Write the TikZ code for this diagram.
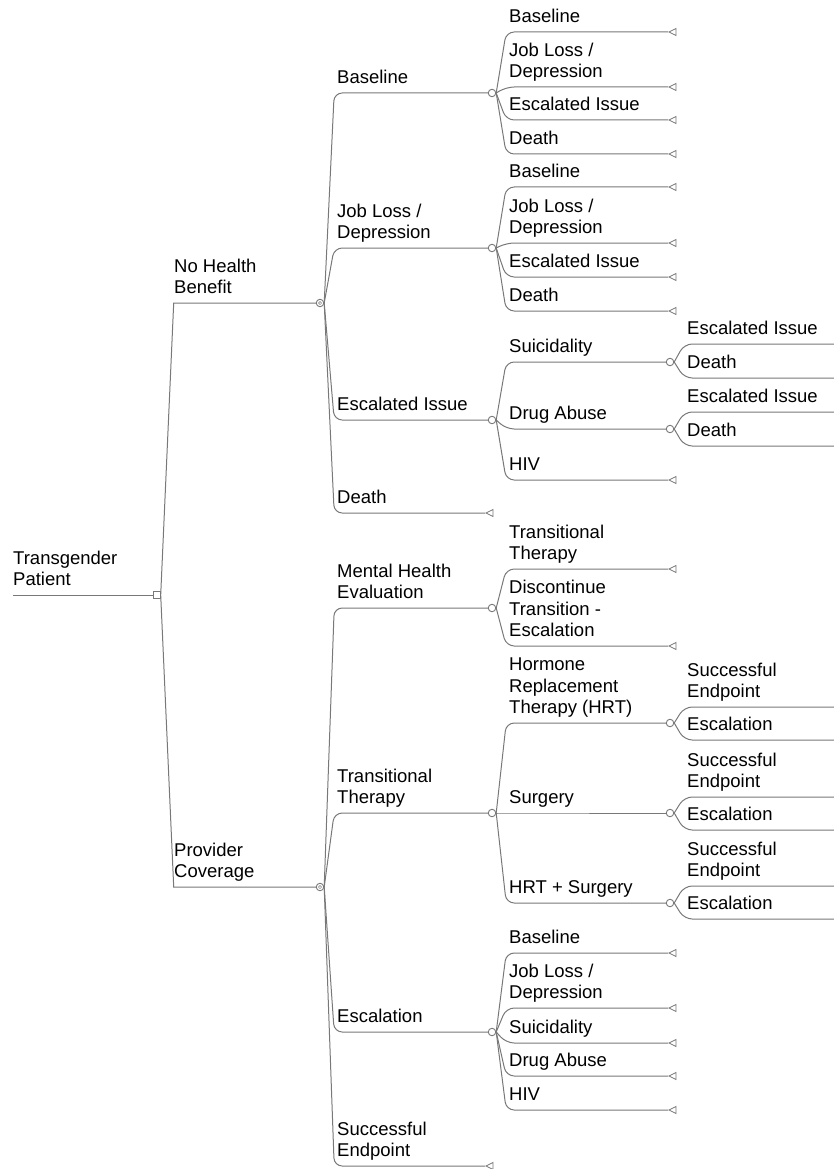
\documentclass[tikz,border=0pt]{standalone}
\usepackage{fontspec}
\setmainfont{Liberation Sans}
\usetikzlibrary{shapes.geometric}

\definecolor{linegray}{RGB}{120,120,120}
\newcommand{\lblfont}{\fontsize{18.5}{21.7}\selectfont}

\begin{document}
\begin{tikzpicture}[x=1pt,y=-1pt,
    branch/.style={draw=linegray, line width=1pt, rounded corners=8pt},
    chance/.style={circle, draw=linegray, fill=white, line width=0.9pt, inner sep=0pt, minimum size=7.5pt},
    chancedot/.style={chance, path picture={\draw[linegray, line width=0.5pt] (path picture bounding box.center) circle (1.6pt);}},
    decision/.style={rectangle, draw=linegray, fill=white, line width=0.9pt, inner sep=0pt, minimum size=6.5pt},
    leaf/.style={isosceles triangle, shape border rotate=180, isosceles triangle stretches, draw=linegray, fill=white, line width=0.8pt, inner sep=0pt, minimum height=7pt, minimum width=7pt, anchor=west},
    lbl/.style={anchor=south west, inner sep=0pt, align=left, font=\lblfont, execute at end node=\strut}]

    \useasboundingbox (0,0) rectangle (834,1169);

    % Decision node
    \coordinate (start) at (13,595);
    \node[decision] (dec) at (157,595) {};
    \node[lbl] (lpatient) at (13,592.5) {Transgender\\Patient};
    \draw[branch] (start) -- (dec);

    % First level
    \node[chancedot] (nhb) at (320,303) {};
    \node[chancedot] (pc) at (320,887) {};
    \node[lbl] (lnhb) at (174,300.5) {No Health\\Benefit};
    \node[lbl] (lpc) at (174,884.5) {Provider\\Coverage};
    \foreach \k in {nhb,pc}
        \draw[branch, sharp corners] (dec.east) -- ([xshift=13pt]dec.east |- \k) -- (\k.west);

    % Second level
    \foreach \n/\y/\t in {bl2/93/Baseline, jl2/248/{Job Loss /\\Depression}, ei2/420/Escalated Issue,
            mh2/608/{Mental Health\\Evaluation}, tt2/813/{Transitional\\Therapy}, es2/1032/Escalation} {
        \node[chance] (\n) at (492,\y) {};
        \node[lbl] (l\n) at (337,\y-2.5) {\t};
    }
    \node[leaf] (dt2) at (485,513) {};
    \node[lbl] (ldt2) at (337,510.5) {Death};
    \node[leaf] (se2) at (485,1166) {};
    \node[lbl] (lse2) at (337,1163.5) {Successful\\Endpoint};
    \foreach \k in {bl2,jl2,ei2,dt2}
        \draw[branch] (nhb.east) -- ([xshift=10pt]nhb.east |- \k.west) -- (\k.west);
    \foreach \k in {mh2,tt2,es2,se2}
        \draw[branch] (pc.east) -- ([xshift=10pt]pc.east |- \k.west) -- (\k.west);

    % Third level, end points
    \foreach \n/\y/\t in {a1/32/Baseline, a2/87/{Job Loss /\\Depression}, a3/120/Escalated Issue, a4/154/Death,
            b1/187/Baseline, b2/243/{Job Loss /\\Depression}, b3/277/Escalated Issue, b4/311/Death,
            c3/480/HIV,
            d1/569/{Transitional\\Therapy}, d2/646/{Discontinue\\Transition -\\Escalation},
            e1/953/Baseline, e2/1008/{Job Loss /\\Depression}, e3/1043/Suicidality, e4/1076/Drug Abuse, e5/1110/HIV} {
        \node[leaf] (\n) at (668,\y) {};
        \node[lbl] (l\n) at (509,\y-2.5) {\t};
    }
    % Third level, chance nodes
    \foreach \n/\y/\t in {c1/362/Suicidality, c2/429/Drug Abuse,
            f1/723/{Hormone\\Replacement\\Therapy (HRT)}, f2/813/Surgery, f3/903/HRT + Surgery} {
        \node[chance] (\n) at (670,\y) {};
        \node[lbl] (l\n) at (509,\y-2.5) {\t};
    }
    \foreach \p/\k in {bl2/a1, bl2/a2, bl2/a3, bl2/a4, jl2/b1, jl2/b2, jl2/b3, jl2/b4,
            ei2/c1, ei2/c2, ei2/c3, mh2/d1, mh2/d2, tt2/f1, tt2/f2, tt2/f3,
            es2/e1, es2/e2, es2/e3, es2/e4, es2/e5}
        \draw[branch] (\p.east) -- ([xshift=10pt]\p.east |- \k.west) -- (\k.west);

    % Fourth level, running off the page
    \foreach \p/\n/\y/\t in {c1/g1/344/Escalated Issue, c1/g2/378/Death, c2/g3/412/Escalated Issue, c2/g4/446/Death,
            f1/h1/707/{Successful\\Endpoint}, f1/h2/740/Escalation, f2/h3/797/{Successful\\Endpoint},
            f2/h4/830/Escalation, f3/h5/886/{Successful\\Endpoint}, f3/h6/919/Escalation} {
        \coordinate (\n) at (840,\y);
        \node[lbl] (l\n) at (687,\y-2.5) {\t};
        \draw[branch] (\p.east) -- ([xshift=10pt]\p.east |- \n) -- (\n);
    }
\end{tikzpicture}
\end{document}
